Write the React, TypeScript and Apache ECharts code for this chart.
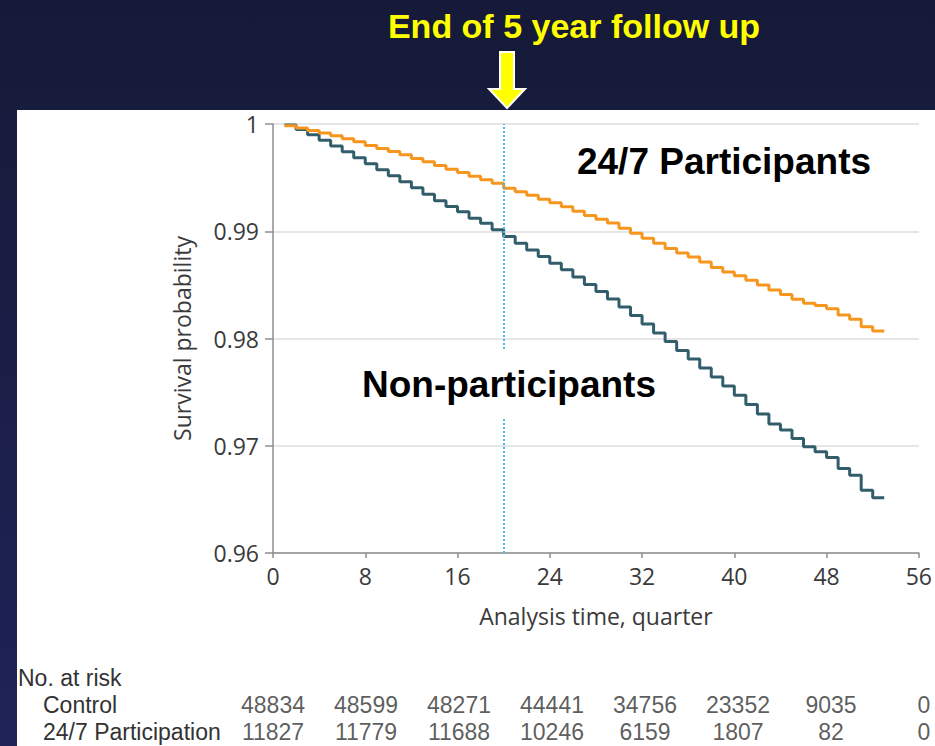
import React, { useEffect, useRef } from "react";
import * as echarts from "echarts";

// Kaplan-Meier step values, one per quarter (quarter 1 .. 53)
const participationSurvival = [
  0.99984, 0.99963, 0.9994, 0.99916, 0.99891, 0.99863, 0.99835, 0.998, 0.99772, 0.99744,
  0.99713, 0.99679, 0.99648, 0.99613, 0.99578, 0.99547, 0.99513, 0.9948, 0.99447, 0.99401,
  0.99368, 0.99335, 0.99298, 0.99265, 0.99228, 0.99186, 0.99148, 0.99111, 0.99076, 0.99029,
  0.98982, 0.98934, 0.98887, 0.9884, 0.98798, 0.98761, 0.98714, 0.98663, 0.98621, 0.98584,
  0.98542, 0.985, 0.98453, 0.98411, 0.98366, 0.98329, 0.98308, 0.98277, 0.98219, 0.98179,
  0.9811, 0.9807, 0.9807,
];
const controlSurvival = [
  0.99991, 0.99949, 0.999, 0.99849, 0.99795, 0.99741, 0.99685, 0.99629, 0.99573, 0.99517,
  0.99461, 0.99405, 0.99345, 0.99284, 0.99231, 0.99181, 0.99122, 0.99074, 0.99013, 0.98951,
  0.98889, 0.98826, 0.98764, 0.98702, 0.9864, 0.98574, 0.98504, 0.98439, 0.98369, 0.98294,
  0.98215, 0.98135, 0.98051, 0.97972, 0.97888, 0.97809, 0.97725, 0.97641, 0.97557, 0.97472,
  0.97384, 0.97295, 0.97202, 0.97146, 0.97068, 0.9699, 0.96943, 0.96891, 0.96788, 0.96726,
  0.96585, 0.96514, 0.96514,
];

const riskTimes = [0, 8, 16, 24, 32, 40, 48, 56];
const controlAtRisk = [48834, 48599, 48271, 44441, 34756, 23352, 9035, 0];
const participationAtRisk = [11827, 11779, 11688, 10246, 6159, 1807, 82, 0];
const riskRows = ["Control", "24/7 Participation"];

const followUpEnd = 20;

const TEXT_FONT = "'Open Sans', 'Noto Sans', sans-serif";
const TABLE_FONT = "'Liberation Sans', Arial, sans-serif";
const BOLD_FONT = "'Liberation Sans', Arial, sans-serif";

export default function App() {
  const ref = useRef<HTMLDivElement>(null);

  useEffect(() => {
    if (!ref.current) return;
    const chart = echarts.init(ref.current, null, { renderer: "svg" });

    const controlData = controlSurvival.map((v, i) => [i + 1, v]);
    const partData = participationSurvival.map((v, i) => [i + 1, v]);
    const riskData: any[] = [];
    riskTimes.forEach((t, i) => {
      riskData.push([t, riskRows[0], controlAtRisk[i]]);
      riskData.push([t, riskRows[1], participationAtRisk[i]]);
    });

    const labelText = { fontFamily: TEXT_FONT, fontSize: 23, lineHeight: 24, color: "#3a3a3a" };

    const option: any = {
      animation: false,
      backgroundColor: "transparent",
      grid: [
        { left: 273, top: 124, width: 651, height: 429 },
        { left: 273, top: 691.5, width: 651, height: 54 },
      ],
      xAxis: [
        {
          type: "value",
          gridIndex: 0,
          min: 0,
          max: 56,
          interval: 8,
          name: "Analysis time, quarter",
          nameLocation: "middle",
          nameGap: 51,
          nameTextStyle: labelText,
          axisLine: { show: true, lineStyle: { color: "#8e8e8e", width: 1.5 } },
          axisTick: { show: true, length: 5, lineStyle: { color: "#8e8e8e", width: 1.5 } },
          axisLabel: { ...labelText, margin: 11 },
          splitLine: { show: false },
        },
        {
          type: "value",
          gridIndex: 1,
          min: 0,
          max: 56,
          interval: 8,
          show: false,
        },
      ],
      yAxis: [
        {
          type: "value",
          gridIndex: 0,
          min: 0.96,
          max: 1,
          interval: 0.01,
          name: "Survival probability",
          nameLocation: "middle",
          nameGap: 79,
          nameTextStyle: labelText,
          axisLine: { show: true, lineStyle: { color: "#8e8e8e", width: 1.5 } },
          axisTick: { show: true, length: 8, lineStyle: { color: "#8e8e8e", width: 1.5 } },
          axisLabel: {
            ...labelText,
            margin: 14,
            formatter: (v: number) => String(Math.round(v * 100) / 100),
          },
          splitLine: { show: true, lineStyle: { color: "#dedede", width: 1.5 } },
        },
        {
          type: "category",
          gridIndex: 1,
          data: riskRows,
          inverse: true,
          axisLine: { show: false },
          axisTick: { show: false },
          axisLabel: {
            interval: 0,
            align: "left",
            margin: 230,
            fontFamily: TABLE_FONT,
            fontSize: 23,
            lineHeight: 24,
            color: "#333333",
          },
        },
      ],
      series: [
        {
          type: "line",
          name: "Non-participants",
          xAxisIndex: 0,
          yAxisIndex: 0,
          data: controlData,
          step: "end",
          showSymbol: false,
          lineStyle: { color: "#325e6c", width: 3 },
          itemStyle: { color: "#325e6c" },
          z: 3,
        },
        {
          type: "line",
          name: "24/7 Participants",
          xAxisIndex: 0,
          yAxisIndex: 0,
          data: partData,
          step: "end",
          showSymbol: false,
          lineStyle: { color: "#f7961e", width: 3 },
          itemStyle: { color: "#f7961e" },
          z: 4,
          markLine: {
            silent: true,
            symbol: ["none", "none"],
            label: { show: false },
            lineStyle: { color: "#45b8ec", type: [2, 2], width: 2 },
            data: [{ xAxis: followUpEnd }],
          },
        },
        {
          type: "scatter",
          xAxisIndex: 1,
          yAxisIndex: 1,
          data: riskData,
          symbolSize: 1,
          itemStyle: { color: "rgba(0,0,0,0)" },
          label: {
            show: true,
            position: "inside",
            formatter: (p: any) => String(p.value[2]),
            fontFamily: TABLE_FONT,
            fontSize: 23,
            lineHeight: 24,
            color: "#333333",
          },
        },
      ],
      graphic: [
        {
          type: "text",
          x: 574,
          y: 26,
          z: 100,
          style: {
            text: "End of 5 year follow up",
            font: `bold 34px ${BOLD_FONT}`,
            fill: "#ffff00",
            align: "center",
            verticalAlign: "middle",
            textAlign: "center",
            textVerticalAlign: "middle",
          },
        },
        {
          type: "polygon",
          z: 100,
          shape: {
            points: [
              [500, 52],
              [514, 52],
              [514, 89],
              [525, 89],
              [507, 108],
              [489, 89],
              [500, 89],
            ],
          },
          style: { fill: "#ffff00", stroke: "#ffffff", lineWidth: 2 },
        },
        {
          type: "text",
          x: 724,
          y: 161,
          z: 100,
          style: {
            text: "24/7 Participants",
            font: `bold 37px ${BOLD_FONT}`,
            fill: "#000000",
            align: "center",
            verticalAlign: "middle",
            textAlign: "center",
            textVerticalAlign: "middle",
          },
        },
        {
          type: "text",
          x: 509,
          y: 384,
          z: 100,
          style: {
            text: "Non-participants",
            font: `bold 37px ${BOLD_FONT}`,
            fill: "#000000",
            align: "center",
            verticalAlign: "middle",
            textAlign: "center",
            textVerticalAlign: "middle",
            backgroundColor: "#ffffff",
            padding: [15, 8],
          },
        },
        {
          type: "text",
          x: 18,
          y: 678,
          z: 100,
          style: {
            text: "No. at risk",
            font: `23px ${TABLE_FONT}`,
            lineHeight: 24,
            fill: "#333333",
            align: "left",
            verticalAlign: "middle",
            textAlign: "left",
            textVerticalAlign: "middle",
          },
        },
      ],
    };

    chart.setOption(option);
    return () => chart.dispose();
  }, []);

  return (
    <div
      style={{
        position: "fixed",
        left: 0,
        top: 0,
        width: 935,
        height: 746,
        background: "linear-gradient(to bottom, #161a38, #1f2357)",
        overflow: "hidden",
      }}
    >
      <div
        style={{
          position: "absolute",
          left: 17,
          top: 110,
          width: 918,
          height: 636,
          background: "#ffffff",
        }}
      />
      <div
        ref={ref}
        style={{ position: "absolute", left: 0, top: 0, width: 935, height: 746 }}
      />
    </div>
  );
}
